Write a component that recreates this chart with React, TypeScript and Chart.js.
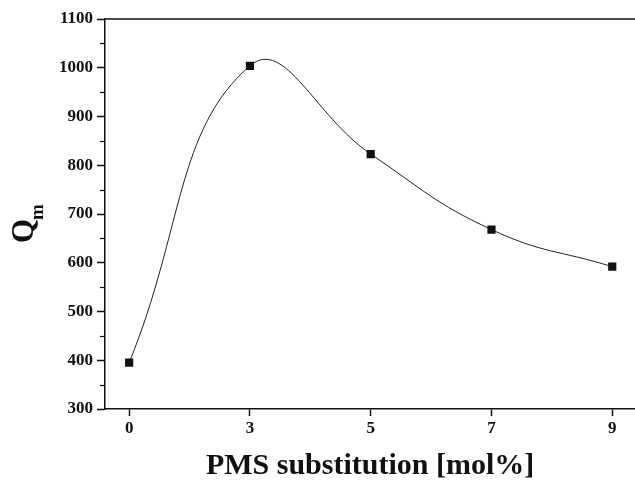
import React, { useEffect, useRef } from "react";
import { Chart, registerables } from "chart.js";

Chart.register(...registerables);

const xLabels = ["0", "3", "5", "7", "9"];
const qmValues = [395, 1004, 823, 668, 592];
const yMinorTicks = [350, 450, 550, 650, 750, 850, 950, 1050];

const FONT = "'Liberation Serif', 'Times New Roman', serif";

const framePlugin = {
  id: "frame",
  afterDraw(chart: any) {
    const { ctx, chartArea, scales } = chart;
    const y = scales.y;
    ctx.save();
    ctx.strokeStyle = "#111";
    ctx.lineWidth = 1.5;
    ctx.beginPath();
    ctx.moveTo(chartArea.left, chartArea.top);
    ctx.lineTo(chartArea.right + 10, chartArea.top);
    ctx.stroke();
    ctx.lineWidth = 1.2;
    for (const v of yMinorTicks) {
      const py = Math.round(y.getPixelForValue(v)) + 0.5;
      ctx.beginPath();
      ctx.moveTo(chartArea.left - 5, py);
      ctx.lineTo(chartArea.left, py);
      ctx.stroke();
    }
    ctx.fillStyle = "#111";
    ctx.translate(33, 243);
    ctx.rotate(-Math.PI / 2);
    ctx.font = `bold 31px ${FONT}`;
    ctx.textBaseline = "alphabetic";
    ctx.textAlign = "left";
    ctx.fillText("Q", 0, 0);
    const w = ctx.measureText("Q").width;
    ctx.font = `bold 19px ${FONT}`;
    ctx.fillText("m", w - 1, 10);
    ctx.restore();
  },
};

export default function App() {
  const ref = useRef<HTMLCanvasElement | null>(null);
  useEffect(() => {
    if (!ref.current) return;
    const chart = new Chart(ref.current, {
      type: "line",
      data: {
        datasets: [
          {
            data: qmValues.map((v, i) => ({ x: i, y: v })),
            borderColor: "#222",
            borderWidth: 1,
            tension: 0.45,
            pointStyle: "rect",
            pointRadius: 5.8,
            pointBorderWidth: 0,
            pointBackgroundColor: "#111",
            pointBorderColor: "#111",
            fill: false,
          },
        ],
      },
      options: {
        animation: false,
        responsive: false,
        maintainAspectRatio: false,
        plugins: { legend: { display: false }, tooltip: { enabled: false } },
        layout: { padding: { top: 19, left: 0, right: 0, bottom: 0 } },
        scales: {
          x: {
            type: "linear",
            min: -0.2,
            max: 4.19,
            afterBuildTicks: (scale: any) => {
              scale.ticks = xLabels.map((_, i) => ({ value: i }));
            },
            afterFit: (scale: any) => {
              scale.height = 75;
            },
            ticks: {
              callback: (v: any) => xLabels[v as number] ?? "",
              font: { family: FONT, size: 17, weight: "bold" },
              color: "#111",
              padding: 2,
              maxRotation: 0,
              autoSkip: false,
            },
            grid: {
              drawOnChartArea: false,
              tickLength: 7,
              tickColor: "#111",
              tickWidth: 1.5,
            },
            border: { color: "#111", width: 1.5 },
            title: {
              display: true,
              text: "PMS substitution [mol%]",
              font: { family: FONT, size: 30, weight: "bold" },
              color: "#111",
              padding: { top: 0, bottom: 0 },
            },
          },
          y: {
            min: 300,
            max: 1100,
            afterFit: (scale: any) => {
              scale.width = 105;
            },
            ticks: {
              stepSize: 100,
              callback: (v: any) => String(v),
              font: { family: FONT, size: 17, weight: "bold" },
              color: "#111",
              padding: 4,
            },
            grid: {
              drawOnChartArea: false,
              tickLength: 8,
              tickColor: "#111",
              tickWidth: 1.5,
            },
            border: { color: "#111", width: 1.5 },
          },
        },
      },
      plugins: [framePlugin],
    });
    return () => chart.destroy();
  }, []);
  return (
    <div style={{ position: "fixed", left: 0, top: 0, width: 635, height: 484, overflow: "hidden", background: "#fff" }}>
      <canvas ref={ref} width={641} height={484} style={{ width: 641, height: 484, display: "block" }} />
    </div>
  );
}
